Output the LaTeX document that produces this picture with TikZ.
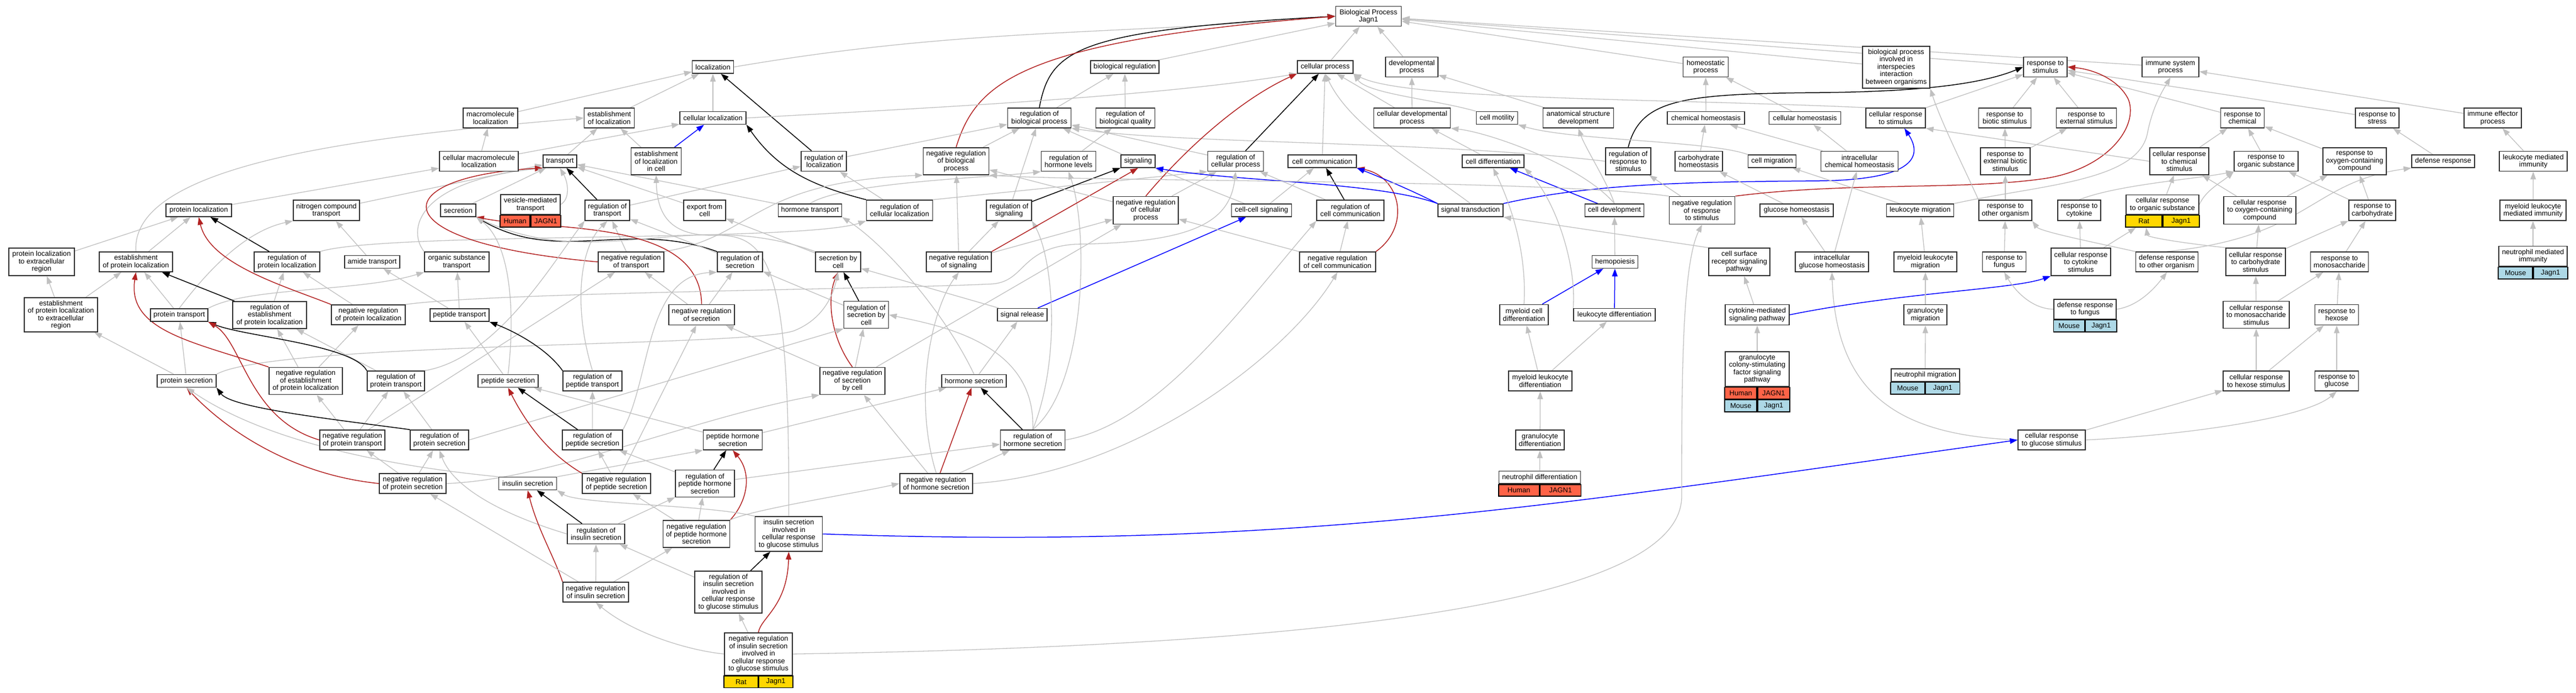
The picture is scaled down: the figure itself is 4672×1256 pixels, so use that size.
\documentclass[tikz,border=0pt]{standalone}
\usepackage{fontspec}
\setmainfont{Liberation Sans}
\usetikzlibrary{arrows.meta,backgrounds,fit}

\definecolor{edgegray}{HTML}{C0C0C0}
\definecolor{boxline}{HTML}{2E2E2E}
\definecolor{negred}{HTML}{B22222}
\definecolor{human}{HTML}{FF6347}
\definecolor{mouse}{HTML}{ADD8E6}
\definecolor{rat}{HTML}{FFD700}
\newcommand{\gofont}{\fontsize{12.8}{13.5}\selectfont}

\tikzset{
  term/.style 2 args={rectangle, draw=boxline, line width=1.6pt, fill=white,
    align=center, inner sep=0pt, minimum width=#1pt, minimum height=#2pt, font=\gofont},
  cell/.style 2 args={rectangle, draw=black, line width=1.6pt, fill=#1,
    inner sep=0pt, minimum width=#2pt, minimum height=21.5pt, font=\gofont},
  isa/.style={->, draw=edgegray, line width=1.3pt},
  reg/.style={->, draw=black, line width=1.5pt},
  negreg/.style={->, draw=negred, line width=1.5pt},
  partof/.style={->, draw=blue, line width=1.5pt},
}

\begin{document}
\begin{tikzpicture}[>={Triangle[length=14pt,width=10pt]}, x=1pt, y=-1pt]
\useasboundingbox (0,0) rectangle (4672,1256);

%root
\node[term={119}{36}] (bp) at (2482,29.5) {Biological Process\\Jagn1};

%first level
\node[term={75}{23}] (loc) at (1293,121.5) {localization};
\node[term={124}{23}] (bioreg) at (2040,121.5) {biological regulation};
\node[term={101}{23}] (cellproc) at (2403.5,121.5) {cellular process};
\node[term={95}{36}] (devproc) at (2560.5,121.5) {developmental\\process};
\node[term={82}{36}] (homeo) at (3093.5,121.5) {homeostatic\\process};
\node[term={122}{76}] (interspec) at (3439,122) {biological process\\involved in\\interspecies\\interaction\\between organisms};
\node[term={79}{36}] (respstim) at (3709.5,121.5) {response to\\stimulus};
\node[term={103}{36}] (immsys) at (3936.5,121.5) {immune system\\process};

%second level
\node[term={99}{36}] (macroloc) at (889.5,214) {macromolecule\\localization};
\node[term={91}{36}] (estloc) at (1105,214) {establishment\\of localization};
\node[term={120}{23}] (cellloc) at (1293,214) {cellular localization};
\node[term={115}{36}] (regbio) at (1885,214) {regulation of\\biological process};
\node[term={107}{36}] (regqual) at (2041,214) {regulation of\\biological quality};
\node[term={139}{36}] (celldev) at (2561,214) {cellular developmental\\process};
\node[term={75}{23}] (motil) at (2715,214) {cell motility};
\node[term={128}{36}] (anat) at (2862.5,214) {anatomical structure\\development};
\node[term={140}{23}] (chemhomeo) at (3094,214) {chemical homeostasis};
\node[term={130}{23}] (cellhomeo) at (3273.6,214) {cellular homeostasis};
\node[term={108}{36}] (cellresp) at (3438,214) {cellular response\\to stimulus};
\node[term={95}{36}] (biotic) at (3636,214) {response to\\biotic stimulus};
\node[term={109}{36}] (external) at (3784,214) {response to\\external stimulus};
\node[term={79}{36}] (chem) at (4067,214) {response to\\chemical};
\node[term={79}{36}] (stress) at (4311.5,214) {response to\\stress};
\node[term={104}{36}] (effector) at (4521,214) {immune effector\\process};

%third level
\node[term={143}{36}] (cmacroloc) at (868.5,292.5) {cellular macromolecule\\localization};
\node[term={61}{23}] (transp) at (1015.5,292.5) {transport};
\node[term={91}{49}] (estcell) at (1190,292.5) {establishment\\of localization\\in cell};
\node[term={82}{36}] (regloc) at (1494,292.5) {regulation of\\localization};
\node[term={119}{49}] (negbio) at (1734,292.5) {negative regulation\\of biological\\process};
\node[term={99}{36}] (hormlev) at (1938,292.5) {regulation of\\hormone levels};
\node[term={62}{23}] (signal) at (2064,292.5) {signaling};
\node[term={101}{36}] (regcell) at (2241,292.5) {regulation of\\cellular process};
\node[term={124}{23}] (comm) at (2398,292.5) {cell communication};
\node[term={112}{23}] (diff) at (2708,292.5) {cell differentiation};
\node[term={82}{49}] (regresp) at (2953,292.5) {regulation of\\response to\\stimulus};
\node[term={86}{36}] (carbhomeo) at (3081,292.5) {carbohydrate\\homeostasis};
\node[term={87}{23}] (migr) at (3214,292.5) {cell migration};
\node[term={140}{36}] (intrachem) at (3372.5,292.5) {intracellular\\chemical homeostasis};
\node[term={90}{49}] (extbiotic) at (3637,292.5) {response to\\external biotic\\stimulus};
\node[term={107}{49}] (cellchem) at (3952.5,292.5) {cellular response\\to chemical\\stimulus};
\node[term={116}{36}] (organic) at (4110,292.5) {response to\\organic substance};
\node[term={115}{49}] (oxygen) at (4270.5,292.5) {response to\\oxygen-containing\\compound};
\node[term={114}{23}] (defense) at (4431,292.5) {defense response};
\node[term={123}{36}] (leukimm) at (4594.5,292.5) {leukocyte mediated\\immunity};

%fourth level
\node[term={119}{23}] (protloc) at (360.5,381.5) {protein localization};
\node[term={120}{37}] (nitro) at (592,381.5) {nitrogen compound\\transport};
\node[term={64}{23}] (secr) at (831,381.5) {secretion};
\node[term={108}{36}] (vesic) at (962,371) {vesicle-mediated\\transport};
\node[cell={human}{54}, anchor=north east] (vesich) at (vesic.south) {Human};
\node[cell={human}{54}, anchor=north west] (vesicj) at (vesic.south) {JAGN1};
\node[term={81}{37}] (regtransp) at (1101.5,381.5) {regulation of\\transport};
\node[term={76}{37}] (export) at (1278,381.5) {export from\\cell};
\node[term={115}{23}] (hormtransp) at (1469,381.5) {hormone transport};
\node[term={120}{37}] (regcloc) at (1631.5,381.5) {regulation of\\cellular localization};
\node[term={82}{37}] (regsig) at (1830,381.5) {regulation of\\signaling};
\node[term={118}{50}] (negcell) at (2078,381.5) {negative regulation\\of cellular\\process};
\node[term={109}{23}] (cellcell) at (2288,381.5) {cell-cell signaling};
\node[term={122}{37}] (regcomm) at (2449,381.5) {regulation of\\cell communication};
\node[term={118}{23}] (transd) at (2667,381.5) {signal transduction};
\node[term={107}{23}] (development) at (2928,381.5) {cell development};
\node[term={119}{50}] (negresp) at (3087,381.5) {negative regulation\\of response\\to stimulus};
\node[term={133}{23}] (glchomeo) at (3258.5,381.5) {glucose homeostasis};
\node[term={122}{23}] (leukmigr) at (3482.5,381.5) {leukocyte migration};
\node[term={96}{37}] (otherorg) at (3637,381.5) {response to\\other organism};
\node[term={78}{37}] (cytok) at (3771,381.5) {response to\\cytokine};
\node[term={132}{35.5}] (cellorg) at (3922,371.2) {cellular response\\to organic substance};
\node[cell={rat}{66}, anchor=north east] (cellorgr) at (cellorg.south) {Rat};
\node[cell={rat}{66}, anchor=north west] (cellorgj) at (cellorg.south) {Jagn1};
\node[fit=(cellorg)(cellorgj), inner sep=0pt] (cellorgbox) {};
\node[term={131}{50}] (celloxy) at (4098.5,381.5) {cellular response\\to oxygen-containing\\compound};
\node[term={85}{37}] (carb) at (4302.5,381.5) {response to\\carbohydrate};
\node[term={120}{37}] (myelimm) at (4594,381.5) {myeloid leukocyte\\mediated immunity};

%fifth level
\node[term={119}{50}] (plextra) at (75.5,475) {protein localization\\to extracellular\\region};
\node[term={133}{36}] (estprot) at (246.5,475) {establishment\\of protein localization};
\node[term={119}{36}] (regprotloc) at (520.5,475) {regulation of\\protein localization};
\node[term={100}{23}] (amide) at (675,475) {amide transport};
\node[term={117}{36}] (orgtransp) at (828.5,475) {organic substance\\transport};
\node[term={119}{36}] (negtransp) at (1144.5,475) {negative regulation\\of transport};
\node[term={82}{36}] (regsecr) at (1342,475) {regulation of\\secretion};
\node[term={82}{36}] (secrcell) at (1520,475) {secretion by\\cell};
\node[term={118}{36}] (negsig) at (1739,475) {negative regulation\\of signaling};
\node[term={138}{36}] (negcomm) at (2425.7,475) {negative regulation\\of cell communication};
\node[term={83}{23}] (hemo) at (2929,475) {hemopoiesis};
\node[term={111}{50}] (surface) at (3154.5,475) {cell surface\\receptor signaling\\pathway};
\node[term={133}{36}] (intraglc) at (3322.5,475) {intracellular\\glucose homeostasis};
\node[term={114}{36}] (myelmigr) at (3492,475) {myeloid leukocyte\\migration};
\node[term={79}{36}] (fungus) at (3635,475) {response to\\fungus};
\node[term={108}{50}] (cellcytok) at (3774,475) {cellular response\\to cytokine\\stimulus};
\node[term={113}{36}] (defother) at (3930,475) {defense response\\to other organism};
\node[term={108}{50}] (cellcarb) at (4091,475) {cellular response\\to carbohydrate\\stimulus};
\node[term={105}{36}] (monosac) at (4243,475) {response to\\monosaccharide};
\node[term={124}{36.5}] (neutimm) at (4594,464.8) {neutrophil mediated\\immunity};
\node[cell={mouse}{62}, anchor=north east] (neutimmm) at (neutimm.south) {Mouse};
\node[cell={mouse}{62}, anchor=north west] (neutimmj) at (neutimm.south) {Jagn1};

%sixth level
\node[term={133}{62}] (estextra) at (110.5,571) {establishment\\of protein localization\\to extracellular\\region};
\node[term={104}{23}] (prottransp) at (325,571.5) {protein transport};
\node[term={134}{49}] (regestprot) at (489,571.5) {regulation of\\establishment\\of protein localization};
\node[term={134}{36}] (negprotloc) at (668,571) {negative regulation\\of protein localization};
\node[term={107}{23}] (peptransp) at (833.5,571.5) {peptide transport};
\node[term={119}{37}] (negsecr) at (1272.5,571) {negative regulation\\of secretion};
\node[term={81}{49}] (regsecrcell) at (1571,571) {regulation of\\secretion by\\cell};
\node[term={90}{23}] (release) at (1854,571) {signal release};
\node[term={88}{37}] (myeldiff) at (2764,571) {myeloid cell\\differentiation};
\node[term={148}{23}] (leukdiff) at (2928,571) {leukocyte differentiation};
\node[term={116}{37}] (cytosig) at (3187,571) {cytokine-mediated\\signaling pathway};
\node[term={78}{37}] (granmigr) at (3492,571) {granulocyte\\migration};
\node[term={113}{36}] (deffungus) at (3781.7,560.9) {defense response\\to fungus};
\node[cell={mouse}{56.5}, anchor=north east] (deffungusm) at (deffungus.south) {Mouse};
\node[cell={mouse}{56.5}, anchor=north west] (deffungusj) at (deffungus.south) {Jagn1};
\node[term={120}{49}] (cellmono) at (4092,571) {cellular response\\to monosaccharide\\stimulus};
\node[term={79}{37}] (hexose) at (4238,571) {response to\\hexose};

%seventh level
\node[term={107}{23}] (protsecr) at (338.5,691) {protein secretion};
\node[term={133}{49}] (negestprot) at (554.5,691) {negative regulation\\of establishment\\of protein localization};
\node[term={104}{36}] (regprottr) at (718,691) {regulation of\\protein transport};
\node[term={109}{23}] (pepsecr) at (921.5,691) {peptide secretion};
\node[term={107}{36}] (regpeptr) at (1074.5,691) {regulation of\\peptide transport};
\node[term={118}{49}] (negsecrcell) at (1546,691) {negative regulation\\of secretion\\by cell};
\node[term={117}{23}] (hormsecr) at (1766.5,691) {hormone secretion};
\node[term={115}{36}] (myelleukdiff) at (2793.5,691) {myeloid leukocyte\\differentiation};
\node[term={116}{62.7}] (gcsf) at (3187,669.4) {granulocyte\\colony-stimulating\\factor signaling\\pathway};
\node[cell={human}{58}, anchor=north east] (gcsfh) at (gcsf.south) {Human};
\node[cell={human}{58}, anchor=north west] (gcsfj) at (gcsf.south) {JAGN1};
\node[cell={mouse}{58}, anchor=north] (gcsfm) at (gcsfh.south) {Mouse};
\node[cell={mouse}{58}, anchor=north] (gcsfk) at (gcsfj.south) {Jagn1};
\node[term={124}{22.8}] (neutmigr) at (3491.7,680.4) {neutrophil migration};
\node[cell={mouse}{62}, anchor=north east] (neutmigrm) at (neutmigr.south) {Mouse};
\node[cell={mouse}{62}, anchor=north west] (neutmigrj) at (neutmigr.south) {Jagn1};
\node[term={120}{36}] (cellhexose) at (4092,691) {cellular response\\to hexose stimulus};
\node[term={79}{36}] (glucose) at (4238,691) {response to\\glucose};

%eighth level
\node[term={118}{36}] (negprottr) at (639,798) {negative regulation\\of protein transport};
\node[term={106}{36}] (regprotsecr) at (797,798) {regulation of\\protein secretion};
\node[term={109}{36}] (regpepsecr) at (1074.5,798) {regulation of\\peptide secretion};
\node[term={107}{36}] (pephorm) at (1329,798) {peptide hormone\\secretion};
\node[term={117}{36}] (reghormsecr) at (1873,798) {regulation of\\hormone secretion};
\node[term={88}{36}] (grandiff) at (2793,798) {granulocyte\\differentiation};
\node[term={122}{36}] (cellglc) at (3721,798) {cellular response\\to glucose stimulus};

%ninth level
\node[term={121}{36}] (negprotsecr) at (748.5,877) {negative regulation\\of protein secretion};
\node[term={105}{23}] (inssecr) at (957,877) {insulin secretion};
\node[term={124}{36}] (negpepsecr) at (1118,877) {negative regulation\\of peptide secretion};
\node[term={107}{49}] (regpephorm) at (1278.5,877) {regulation of\\peptide hormone\\secretion};
\node[term={132}{36}] (neghormsecr) at (1698,877) {negative regulation\\of hormone secretion};
\node[term={148}{22.7}] (neutdiff) at (2792.5,865.8) {neutrophil differentiation};
\node[cell={human}{74}, anchor=north east] (neutdiffh) at (neutdiff.south) {Human};
\node[cell={human}{74}, anchor=north west] (neutdiffj) at (neutdiff.south) {JAGN1};

%insulin levels
\node[term={104}{36}] (regins) at (1081,968.5) {regulation of\\insulin secretion};
\node[term={121}{49}] (negpephorm) at (1263,968.5) {negative regulation\\of peptide hormone\\secretion};
\node[term={122}{63}] (insglc) at (1430.5,968.5) {insulin secretion\\involved in\\cellular response\\to glucose stimulus};
\node[term={119}{36}] (negins) at (1080.5,1074) {negative regulation\\of insulin secretion};
\node[term={122}{76}] (reginsglc) at (1321,1074) {regulation of\\insulin secretion\\involved in\\cellular response\\to glucose stimulus};
\node[term={123}{76.7}] (neginsglc) at (1375.5,1186.2) {negative regulation\\of insulin secretion\\involved in\\cellular response\\to glucose stimulus};
\node[cell={rat}{61.5}, anchor=north east] (neginsglcr) at (neginsglc.south) {Rat};
\node[cell={rat}{61.5}, anchor=north west] (neginsglcj) at (neginsglc.south) {Jagn1};

%Paths
\begin{scope}[on background layer]
%to the root
\draw[isa] (loc.east) .. controls (1750,50) and (2000,65) .. (bp.west);
\draw[isa] (bioreg) -- (bp);
\draw[isa] (cellproc) -- (bp);
\draw[isa] (devproc) -- (bp);
\draw[isa] (homeo) -- (bp);
\draw[isa] (interspec) -- (bp);
\draw[isa] (respstim) -- (bp);
\draw[isa] (immsys) -- (bp);
\draw[reg] (regbio.north) .. controls (1905,90) and (1950,55) .. (bp.west);
\draw[negreg] (negbio.north) .. controls (1770,150) and (1850,75) .. (bp.west);

%biological regulation
\draw[isa] (regbio) -- (bioreg);
\draw[isa] (regqual) -- (bioreg);
\draw[isa] (negbio) -- (regbio);
\draw[isa] (hormlev) -- (regqual);
\draw[isa] (regloc) -- (regbio);
\draw[isa] (regsig) -- (regbio);
\draw[isa] (regcell) -- (regbio);
\draw[isa] (signal) -- (regbio);
\draw[isa] (regresp.west) .. controls (2600,255) and (2150,262) .. (regbio.south east);

%localization
\draw[isa] (macroloc) -- (loc);
\draw[isa] (estloc) -- (loc);
\draw[isa] (cellloc) -- (loc);
\draw[reg] (regloc) -- (loc);
\draw[isa] (cellloc.east) .. controls (1700,195) and (2100,175) .. (cellproc.south west);
\draw[isa] (cmacroloc) -- (macroloc);
\draw[isa] (cmacroloc) -- (cellloc);
\draw[isa] (transp) -- (estloc);
\draw[isa] (estcell) -- (estloc);
\draw[partof] (estcell) -- (cellloc);
\draw[isa] (protloc) -- (cmacroloc);
\draw[isa] (nitro) -- (transp);
\draw[isa] (plextra) -- (protloc);
\draw[isa] (estprot) -- (protloc);
\draw[isa] (estprot.north) .. controls (235,290) and (700,245) .. (estloc.west);
\draw[reg] (regprotloc) -- (protloc);
\draw[isa] (regprotloc.north east) .. controls (700,420) and (1450,440) .. (regcloc.south west);
\draw[isa] (amide) -- (nitro);
\draw[isa] (orgtransp.north west) .. controls (740,420) and (750,330) .. (transp.south west);
\draw[negreg] (negtransp.west) .. controls (680,440) and (700,320) .. (transp.south west);
\draw[isa] (secr) -- (transp);
\draw[isa] (vesic.east) .. controls (1035,360) and (1030,330) .. (transp.south);
\draw[reg] (regtransp) -- (transp);
\draw[isa] (regtransp) -- (regloc);
\draw[isa] (export) -- (transp);
\draw[isa] (hormtransp) -- (transp);
\draw[isa] (hormtransp.north) .. controls (1530,330) and (1800,322) .. (hormlev.south west);
\draw[reg] (regcloc.north west) .. controls (1473,337) and (1411,308) .. (cellloc.south east);
\draw[isa] (regcloc) -- (regloc);
\draw[isa] (regcloc.north east) -- (regcell.south west);
\draw[isa] (negtransp) -- (regtransp);
\draw[isa] (negtransp.north east) .. controls (1370,430) and (1360,330) .. (negbio.south west);

%secretion
\draw[reg] (regsecr.north west) .. controls (1138,398) and (1013,480) .. (secr.south east);
\draw[isa] (regsecr) -- (regtransp);
\draw[isa] (secrcell.north west) .. controls (1252,374) and (1083,496) .. (secr.south east);
\draw[isa] (secrcell) -- (export);
\draw[isa] (negsecr) -- (regsecr);
\draw[isa] (negsecr) -- (negtransp);
\draw[negreg] (negsecr.north) .. controls (1270,395) and (1000,420) .. (secr.south east);
\draw[isa] (regsecrcell) -- (regsecr);
\draw[reg] (regsecrcell) -- (secrcell);
\draw[isa] (negsecrcell) -- (regsecrcell);
\draw[isa] (negsecrcell) -- (negsecr);
\draw[negreg] (negsecrcell.north) .. controls (1505,610) and (1500,540) .. (secrcell.south);
\draw[isa] (negsecrcell) -- (negcell);
\draw[isa] (release) -- (secrcell);
\draw[partof] (release) -- (cellcell);

%hormone secretion
\draw[isa] (hormsecr.north) .. controls (1710,560) and (1600,440) .. (hormtransp.south east);
\draw[isa] (hormsecr) -- (release);
\draw[reg] (reghormsecr) -- (hormsecr);
\draw[isa] (reghormsecr.north) .. controls (1970,700) and (1975,420) .. (hormlev.south);
\draw[isa] (reghormsecr.north) .. controls (1925,650) and (1910,470) .. (regsig.south east);
\draw[isa] (reghormsecr.north) .. controls (1880,620) and (1700,590) .. (regsecrcell.east);
\draw[isa] (reghormsecr.east) .. controls (2100,770) and (2250,560) .. (regcomm.south west);
\draw[isa] (neghormsecr) -- (reghormsecr);
\draw[negreg] (neghormsecr) -- (hormsecr);
\draw[isa] (neghormsecr) -- (negsecrcell);
\draw[isa] (neghormsecr.north) .. controls (1655,720) and (1690,560) .. (negsig.south);
\draw[isa] (neghormsecr.east) .. controls (2050,860) and (2330,650) .. (negcomm.south);

%signaling
\draw[isa] (negsig) -- (regsig);
\draw[negreg] (negsig.north east) -- (signal.south);
\draw[isa] (negsig) -- (negbio);
\draw[isa] (negsig) -- (negcell);
\draw[reg] (regsig) -- (signal);
\draw[isa] (negcell) -- (regcell);
\draw[isa] (negcell) -- (negbio);
\draw[negreg] (negcell.north) .. controls (2150,270) and (2250,180) .. (cellproc.south west);
\draw[reg] (regcell) -- (cellproc);
\draw[isa] (cellcell) -- (signal);
\draw[isa] (cellcell) -- (comm);
\draw[isa] (comm) -- (cellproc);
\draw[reg] (regcomm) -- (comm);
\draw[isa] (regcomm) -- (regcell);
\draw[isa] (negcomm) -- (regcomm);
\draw[negreg] (negcomm.north east) .. controls (2560,410) and (2540,320) .. (comm.south east);
\draw[isa] (negcomm) -- (negcell);
\draw[partof] (transd.north west) .. controls (2500,330) and (2250,330) .. (signal.south east);
\draw[partof] (transd.north west) .. controls (2560,345) and (2500,320) .. (comm.south east);
\draw[isa] (transd.north) .. controls (2560,290) and (2450,230) .. (cellproc.south);
\draw[partof] (transd.north east) .. controls (2900,330) and (3100,330) .. (3300,328) .. controls (3480,326) and (3485,280) .. ([xshift=16pt]cellresp.south);

%development
\draw[isa] (celldev) -- (devproc);
\draw[isa] (celldev) -- (cellproc);
\draw[isa] (motil.north west) .. controls (2600,180) and (2480,170) .. (cellproc.south east);
\draw[isa] (anat) -- (devproc);
\draw[isa] (diff) -- (celldev);
\draw[partof] (development) -- (diff);
\draw[isa] (development.north) .. controls (2915,330) and (2876,270) .. (anat.south);
\draw[isa] (development.north) .. controls (2870,300) and (2700,240) .. (celldev.south east);
\draw[isa] (hemo) -- (development);
\draw[partof] (myeldiff) -- (hemo);
\draw[isa] (myeldiff.north) .. controls (2770,450) and (2735,360) .. (diff.south);
\draw[partof] (leukdiff) -- (hemo);
\draw[isa] (leukdiff.north west) .. controls (2860,480) and (2820,360) .. (diff.south east);
\draw[isa] (myelleukdiff) -- (myeldiff);
\draw[isa] (myelleukdiff) -- (leukdiff);
\draw[isa] (grandiff) -- (myelleukdiff);
\draw[isa] (neutdiff) -- (grandiff);

%homeostasis
\draw[isa] (chemhomeo) -- (homeo);
\draw[isa] (cellhomeo) -- (homeo);
\draw[isa] (carbhomeo) -- (chemhomeo);
\draw[isa] (intrachem) -- (chemhomeo);
\draw[isa] (intrachem) -- (cellhomeo);
\draw[isa] (glchomeo) -- (carbhomeo);
\draw[isa] (intraglc) -- (glchomeo);
\draw[isa] (intraglc) -- (intrachem);
\draw[isa] (cellglc.west) .. controls (3450,790) and (3330,720) .. (intraglc.south);

%response to stimulus
\draw[isa] (cellresp) -- (respstim);
\draw[isa] (biotic) -- (respstim);
\draw[isa] (external) -- (respstim);
\draw[isa] (extbiotic) -- (biotic);
\draw[isa] (extbiotic) -- (external);
\draw[isa] (chem) -- (respstim);
\draw[isa] (stress) -- (respstim);
\draw[reg] (regresp.north) .. controls (2975,180) and (3050,170) .. (3300,168) .. controls (3500,166) and (3600,150) .. (respstim.west);
\draw[isa] (negresp) -- (regresp);
\draw[isa] (negresp.north west) .. controls (2800,325) and (2000,330) .. (negbio.south east);
\draw[negreg] (negresp.north east) .. controls (3350,330) and (3550,345) .. (3700,325) .. controls (3820,310) and (3880,230) .. (3860,180) .. controls (3840,140) and (3790,125) .. (respstim.east);
\draw[isa] (surface.north west) -- (transd.south east);
\draw[isa] (cytosig) -- (surface);
\draw[partof] (cytosig.east) .. controls (3450,530) and (3650,525) .. (cellcytok.south west);
\draw[isa] (gcsf) -- (cytosig);
\draw[isa] (cellresp.north west) .. controls (3000,178) and (2550,182) .. (cellproc.south east);
\draw[isa] (migr.north west) .. controls (3100,255) and (2850,255) .. (motil.south east);
\draw[isa] (leukmigr) -- (migr);
\draw[isa] (leukmigr.north east) .. controls (3700,335) and (3880,330) .. (3895,240) .. controls (3905,190) and (3925,160) .. (immsys.south);
\draw[isa] (otherorg) -- (extbiotic);
\draw[isa] (otherorg.north west) .. controls (3560,300) and (3520,220) .. (interspec.south east);
\draw[isa] (cytok.north) .. controls (3840,335) and (3980,325) .. (organic.south west);
\draw[isa] (cellorg.east) .. controls (4000,345) and (4030,330) .. (organic.south west);
\draw[isa] (cellorg) -- (cellchem);
\draw[isa] (cellchem) -- (chem);
\draw[isa] (cellchem.west) -- (cellresp.south east);
\draw[isa] (myelmigr) -- (leukmigr);
\draw[isa] (fungus) -- (otherorg);
\draw[isa] (cellcytok) -- (cytok);
\draw[isa] (cellcytok) -- (cellorgbox);
\draw[isa] (cellcarb.north west) .. controls (3950,440) and (3895,430) .. ([xshift=-30pt]cellorgbox.south);
\draw[isa] (defother.north west) .. controls (3800,440) and (3700,420) .. (otherorg.south east);
\draw[isa] (defother.north) .. controls (4190,430) and (4190,330) .. (defense.south west);
\draw[isa] (celloxy) -- (cellchem);
\draw[isa] (celloxy) -- (oxygen);
\draw[isa] (carb) -- (oxygen);
\draw[isa] (carb) -- (organic);
\draw[isa] (organic) -- (chem);
\draw[isa] (oxygen) -- (chem);
\draw[isa] (defense) -- (stress);
\draw[isa] (leukimm) -- (effector);
\draw[isa] (effector) -- (immsys);
\draw[isa] (myelimm) -- (leukimm);
\draw[isa] (neutimm) -- (myelimm);
\draw[isa] (cellcarb) -- (celloxy);
\draw[isa] (cellcarb) -- (carb);
\draw[isa] (monosac) -- (carb);
\draw[isa] (granmigr) -- (myelmigr);
\draw[isa] (neutmigr) -- (granmigr);
\draw[isa] (deffungus.west) .. controls (3680,560) and (3650,520) .. (fungus.south);
\draw[isa] (deffungus.east) .. controls (3880,555) and (3910,520) .. (defother.south);
\draw[isa] (cellmono) -- (cellcarb);
\draw[isa] (cellmono) -- (monosac);
\draw[isa] (hexose) -- (monosac);
\draw[isa] (cellhexose) -- (cellmono);
\draw[isa] (cellhexose) -- (hexose);
\draw[isa] (glucose) -- (hexose);
\draw[isa] (cellglc) -- (cellhexose);
\draw[isa] (cellglc.east) .. controls (3950,790) and (4180,760) .. (glucose.south);

%protein localization
\draw[isa] (estextra) -- (plextra);
\draw[isa] (estextra) -- (estprot);
\draw[isa] (prottransp) -- (estprot);
\draw[isa] (prottransp.north) .. controls (370,500) and (440,420) .. (nitro.south west);
\draw[isa] (prottransp.north east) .. controls (450,520) and (650,530) .. (orgtransp.south west);
\draw[reg] (regestprot) -- (estprot);
\draw[isa] (regestprot) -- (regprotloc);
\draw[isa] (negprotloc) -- (regprotloc);
\draw[negreg] (negprotloc.north west) .. controls (520,520) and (380,480) .. (protloc.south);
\draw[isa] (negprotloc.north east) .. controls (900,530) and (1600,525) .. (1800,515) .. controls (1860,510) and (1850,450) .. (1950,443) .. controls (2150,440) and (2230,410) .. (regcell.south);
\draw[isa] (peptransp) -- (amide);
\draw[isa] (peptransp) -- (orgtransp);

%protein transport and secretion
\draw[isa] (protsecr) -- (prottransp);
\draw[isa] (protsecr) -- (estextra);
\draw[isa] (protsecr.north east) .. controls (500,620) and (1350,630) .. (1440,600) .. controls (1490,580) and (1510,540) .. (secrcell.south);
\draw[isa] (negestprot) -- (regestprot);
\draw[isa] (negestprot) -- (negprotloc);
\draw[negreg] (negestprot.north west) .. controls (350,620) and (230,600) .. (estprot.south);
\draw[isa] (regprottr) -- (regestprot);
\draw[reg] (regprottr.north west) .. controls (640,625) and (440,610) .. (prottransp.south east);
\draw[isa] (regprottr.north east) .. controls (900,650) and (1000,480) .. (regtransp.south west);
\draw[isa] (negprottr) -- (negestprot);
\draw[isa] (negprottr) -- (regprottr);
\draw[negreg] (negprottr.west) .. controls (450,760) and (440,620) .. (prottransp.south east);
\draw[isa] (negprottr) -- (negtransp);
\draw[isa] (regprotsecr) -- (regprottr);
\draw[reg] (regprotsecr.north west) .. controls (600,760) and (420,740) .. (protsecr.south east);
\draw[isa] (regprotsecr.east) -- (regsecrcell.south west);
\draw[isa] (negprotsecr) -- (negprottr);
\draw[isa] (negprotsecr) -- (regprotsecr);
\draw[negreg] (negprotsecr.west) .. controls (520,860) and (400,770) .. (protsecr.south);
\draw[isa] (negprotsecr.east) .. controls (1000,870) and (1250,760) .. (negsecrcell.south west);

%peptide secretion
\draw[isa] (pepsecr) -- (peptransp);
\draw[isa] (pepsecr.north) .. controls (935,560) and (925,440) .. (secr.south east);
\draw[isa] (regpeptr.north) .. controls (1040,560) and (1050,450) .. (regtransp.south);
\draw[reg] (regpeptr.north west) .. controls (990,630) and (930,600) .. (peptransp.south east);
\draw[isa] (regpepsecr) -- (regpeptr);
\draw[reg] (regpepsecr) -- (pepsecr);
\draw[isa] (regpepsecr.north east) .. controls (1180,690) and (1170,500) .. (regsecr.south west);
\draw[isa] (pephorm) -- (pepsecr);
\draw[isa] (pephorm) -- (hormsecr);
\draw[isa] (inssecr.north east) -- (pephorm.south west);
\draw[isa] (inssecr.north west) .. controls (700,845) and (480,800) .. (protsecr.south);
\draw[isa] (negpepsecr) -- (regpepsecr);
\draw[negreg] (negpepsecr.north west) .. controls (990,820) and (950,760) .. (pepsecr.south);
\draw[isa] (negpepsecr) -- (negsecr);
\draw[reg] (regpephorm) -- (pephorm);
\draw[isa] (regpephorm) -- (regpepsecr);
\draw[isa] (regpephorm) -- (reghormsecr);

%insulin secretion
\draw[reg] (regins) -- (inssecr);
\draw[isa] (regins) -- (regpephorm);
\draw[isa] (regins.west) .. controls (900,930) and (820,880) .. (regprotsecr.south);
\draw[isa] (negpephorm) -- (regpephorm);
\draw[negreg] (negpephorm.north east) .. controls (1355,910) and (1365,860) .. (pephorm.south);
\draw[isa] (negpephorm) -- (negpepsecr);
\draw[isa] (negpephorm.north east) .. controls (1360,925) and (1550,895) .. (neghormsecr.west);
\draw[reg] (reginsglc) -- (insglc);
\draw[isa] (reginsglc) -- (regins);
\draw[isa] (insglc.north west) .. controls (1280,915) and (1050,915) .. (inssecr.south east);
\draw[partof] (insglc.east) .. controls (2342,998) and (2818,916) .. (cellglc.west);
\draw[isa] (insglc.north) .. controls (1432,500) and (1400,425) .. (1300,427) .. controls (1215,429) and (1192,390) .. (estcell.south);
\draw[isa] (negins) -- (regins);
\draw[negreg] (negins.north west) .. controls (1005,1010) and (975,960) .. (inssecr.south);
\draw[isa] (negins) -- (negpephorm);
\draw[isa] (negins) -- (negprotsecr);
\draw[isa] (neginsglc) -- (reginsglc);
\draw[negreg] (neginsglc.north) .. controls (1380,1120) and (1428,1100) .. (insglc.south);
\draw[isa] (neginsglc.west) .. controls (1250,1180) and (1150,1150) .. (negins.south);
\draw[isa] (neginsglc.east) .. controls (2500,1170) and (3050,1080) .. (3050,900) .. controls (3050,700) and (3050,480) .. (negresp.south);
\end{scope}

\end{tikzpicture}
\end{document}
